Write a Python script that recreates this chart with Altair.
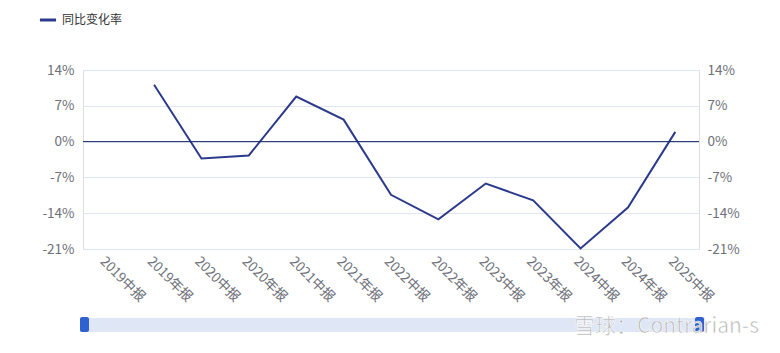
import altair as alt
import pandas as pd

periods = ["2019中报", "2019年报", "2020中报", "2020年报", "2021中报", "2021年报",
           "2022中报", "2022年报", "2023中报", "2023年报", "2024中报", "2024年报", "2025中报"]
values = [None, 11.1, -3.3, -2.7, 8.8, 4.3, -10.4, -15.2, -8.2, -11.5, -20.9, -12.9, 1.9]
series_name = "同比变化率"
y_ticks = [-21, -14, -7, 0, 7, 14]

df = pd.DataFrame({"period": periods, "value": values, "series": series_name})

FONT = "Noto Sans CJK SC"
LINE_COLOR = "#2c3a8c"
LABEL_COLOR = "#6e7079"
GRID_COLOR = "#e0e6f1"

yscale = alt.Scale(domain=[-21, 14], nice=False, zero=False)
xenc = alt.X("period:N", sort=periods, title=None,
             axis=alt.Axis(labelAngle=45, labelAlign="left", labelBaseline="top",
                           labelPadding=5, ticks=False, domain=False, grid=False,
                           labelColor=LABEL_COLOR, labelFontSize=13.5, labelFont=FONT))

line = alt.Chart(df).mark_line(strokeWidth=2, clip=False).encode(
    x=xenc,
    y=alt.Y("value:Q", scale=yscale, title=None,
            axis=alt.Axis(values=y_ticks, labelExpr="datum.value + '%'", orient="left",
                          ticks=False, domain=False, grid=True, gridColor=GRID_COLOR,
                          labelColor=LABEL_COLOR, labelFontSize=13.5, labelFont=FONT,
                          labelPadding=9)),
    color=alt.Color("series:N", title=None,
                    scale=alt.Scale(range=[LINE_COLOR]),
                    legend=alt.Legend(orient="none", legendX=-45, legendY=-60,
                                      symbolType="stroke", symbolStrokeWidth=3,
                                      symbolSize=260, labelFontSize=12,
                                      labelFont=FONT, labelColor="#333333")),
)

right = alt.Chart(df).mark_line(opacity=0).encode(
    x=alt.X("period:N", sort=periods),
    y=alt.Y("value:Q", scale=yscale, title=None,
            axis=alt.Axis(values=y_ticks, labelExpr="datum.value + '%'", orient="right",
                          ticks=False, domain=False, grid=False,
                          labelColor=LABEL_COLOR, labelFontSize=13.5, labelFont=FONT,
                          labelPadding=8)),
)

zero = alt.Chart(pd.DataFrame({"z": [0]})).mark_rule(color="#1b2a6b", strokeWidth=1).encode(
    y=alt.Y("z:Q", scale=yscale, axis=None)
)

slider = alt.Chart(pd.DataFrame({"a": [0]})).mark_rect(color="#dfe7f7").encode(
    x=alt.value(-3), x2=alt.value(622), y=alt.value(248), y2=alt.value(262)
)
handle_l = alt.Chart(pd.DataFrame({"a": [0]})).mark_rect(color="#2f62d0", cornerRadius=2).encode(
    x=alt.value(-3), x2=alt.value(6), y=alt.value(247), y2=alt.value(262)
)
handle_r = alt.Chart(pd.DataFrame({"a": [0]})).mark_rect(color="#2f62d0", cornerRadius=2).encode(
    x=alt.value(612), x2=alt.value(621), y=alt.value(247), y2=alt.value(262)
)
watermark = alt.Chart(pd.DataFrame({"t": ["雪球：Contrarian-s"]})).mark_text(
    align="right", baseline="middle", fontSize=21, font=FONT, color="#b4b4b4",
    stroke="white", strokeWidth=0.6
).encode(x=alt.value(676), y=alt.value(257), text="t:N")

chart = alt.layer(line, right, zero, slider, handle_l, handle_r, watermark).resolve_scale(
    y="independent"
).properties(
    width=616, height=179,
    autosize=alt.AutoSizeParams(type="none"),
    padding={"left": 83, "top": 70, "right": 81, "bottom": 104},
).configure_view(stroke=None).configure(background="white")

chart.save("out.html", embed_options={"renderer": "svg", "actions": False})
